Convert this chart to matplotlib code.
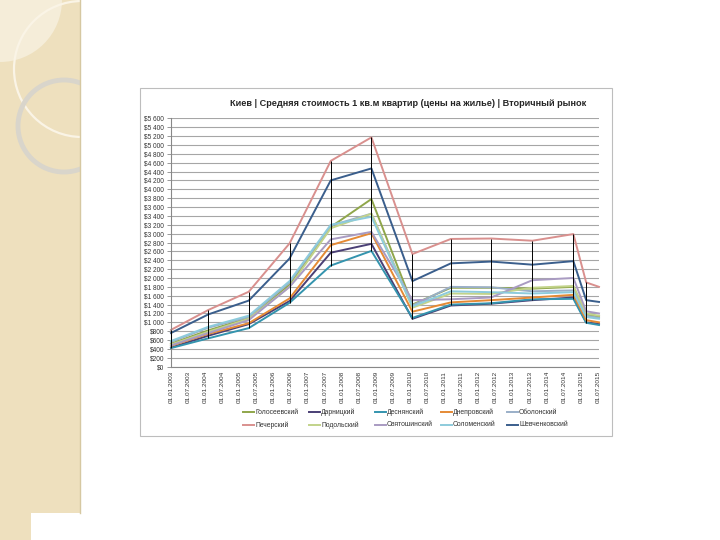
import numpy as np
import matplotlib
matplotlib.use("Agg")
import matplotlib.pyplot as plt
from matplotlib.patches import Rectangle, Circle
from matplotlib.lines import Line2D

plt.rcParams['font.family'] = ['Liberation Sans', 'DejaVu Sans']

title = "Киев | Средняя стоимость 1 кв.м квартир (цены на жилье) | Вторичный рынок"
tick_labels = [f"01.{m}.{y}" for y in range(2003, 2016) for m in ("01", "07")]
# position of each observation along the date axis (in half-year label steps)
x_pos = [0, 2.19, 4.55, 6.94, 9.35, 11.73, 14.13, 16.38, 18.73, 21.15, 23.55, 24.3, 25.05]

districts = ["Голосеевский", "Дарницкий", "Деснянский", "Днепровский", "Оболонский",
             "Печерский", "Подольский", "Святошинский", "Соломенский", "Шевченковский"]
colors = ["#8FA64A", "#4A3F75", "#3494AE", "#E58A35", "#9AAFC8",
          "#D9908E", "#C2D38A", "#A99BC2", "#8DCBDC", "#3A5E8C"]

golos = [520, 820, 1100, 1850, 3150, 3780, 1400, 1780, 1780, 1760, 1800, 1180, 1130]
darn = [430, 700, 960, 1480, 2570, 2770, 1080, 1380, 1420, 1500, 1560, 1000, 960]
desn = [420, 640, 870, 1440, 2280, 2610, 1100, 1400, 1430, 1520, 1530, 990, 940]
dnepr = [470, 740, 980, 1540, 2740, 3010, 1240, 1450, 1500, 1560, 1620, 1050, 1000]
obol = [560, 880, 1120, 1900, 3180, 3450, 1380, 1800, 1790, 1700, 1720, 1150, 1100]
pech = [830, 1280, 1690, 2780, 4640, 5170, 2540, 2880, 2890, 2840, 2990, 1900, 1800]
podol = [500, 790, 1080, 1800, 3120, 3450, 1330, 1650, 1640, 1780, 1820, 1200, 1150]
svyat = [480, 760, 1050, 1800, 2870, 3040, 1500, 1520, 1560, 1950, 2000, 1250, 1200]
solom = [580, 900, 1150, 1930, 3200, 3380, 1360, 1700, 1680, 1650, 1680, 1120, 1080]
shev = [760, 1180, 1490, 2440, 4200, 4470, 1930, 2330, 2370, 2300, 2380, 1500, 1460]
series = [golos, darn, desn, dnepr, obol, pech, podol, svyat, solom, shev]

W, H = 720, 540
fig = plt.figure(figsize=(7.2, 5.4), dpi=100)
fig.patch.set_facecolor("white")

def fx(x):
    return x / W

def fy(y):
    return 1 - y / H

# slide decoration (left strip)
deco = fig.add_axes([0, 0, 1, 1])
deco.set_xlim(0, W)
deco.set_ylim(H, 0)
deco.axis("off")
strip = Rectangle((0, 0), 80, H, facecolor="#EEE0BE", edgecolor="none")
deco.add_patch(strip)
light = Circle((0, 0), 62, facecolor="#F5EDD9", edgecolor="none")
deco.add_patch(light)
light.set_clip_path(strip)
ring1 = Circle((82, 69), 68, facecolor="none", edgecolor="#FAF4E6", lw=1.6)
deco.add_patch(ring1)
ring1.set_clip_path(strip)
ring2 = Circle((64, 126), 46, facecolor="none", edgecolor="#D9D5CB", lw=3.5)
deco.add_patch(ring2)
ring2.set_clip_path(strip)
deco.plot([79.5, 79.5], [0, 513], color="#D6C8A2", lw=1)
deco.add_patch(Rectangle((31, 513), 49, 27, facecolor="white", edgecolor="none"))

# chart box
deco.add_patch(Rectangle((140, 88), 472, 348, facecolor="none", edgecolor="#BDBDBD", lw=0.8))
deco.text(408, 104, title, ha="center", va="center", fontsize=6.6, fontweight="bold", color="#262626")

# plot area
left, right, top, bottom = 171, 599, 118.3, 366.7
ax = fig.add_axes([fx(left), fy(bottom), (right - left) / W, (bottom - top) / H])
ax.set_xlim(x_pos[0], x_pos[-1])
ax.set_ylim(0, 5600)
yt = list(range(0, 5601, 200))
ax.set_yticks(yt)
ax.set_yticklabels(["$" + f"{v:,}".replace(",", " ") for v in yt], fontsize=4.7, color="#333333")
ax.set_xticks(range(len(tick_labels)))
ax.set_xticklabels(tick_labels, rotation=90, fontsize=4.6, color="#333333")
ax.tick_params(axis="x", length=0, pad=3)
ax.tick_params(axis="y", length=3, width=0.6, color="#888888", pad=2)
ax.grid(axis="y", color="#A6A6A6", lw=0.8)
ax.set_axisbelow(True)
for s in ("top", "right"):
    ax.spines[s].set_visible(False)
for s in ("left", "bottom"):
    ax.spines[s].set_color("#888888")
    ax.spines[s].set_linewidth(0.8)

arr = np.array(series)
ax.vlines(x_pos, arr.min(axis=0), arr.max(axis=0), color="black", lw=0.7, zorder=3)
for vals, c in zip(series, colors):
    ax.plot(x_pos, vals, color=c, lw=1.4, zorder=2, clip_on=False)

# legend (two rows, five columns)
col_x = [243, 309, 375, 441, 507]
row_y = [412, 425]
for i, (name, c) in enumerate(zip(districts, colors)):
    r, k = divmod(i, 5)
    x0, y0 = col_x[k], row_y[r]
    deco.add_line(Line2D([x0, x0 + 11], [y0, y0], color=c, lw=1.4))
    deco.text(x0 + 12, y0, name, ha="left", va="center", fontsize=4.9, color="#333333")

fig.savefig("out.png", dpi=100)
